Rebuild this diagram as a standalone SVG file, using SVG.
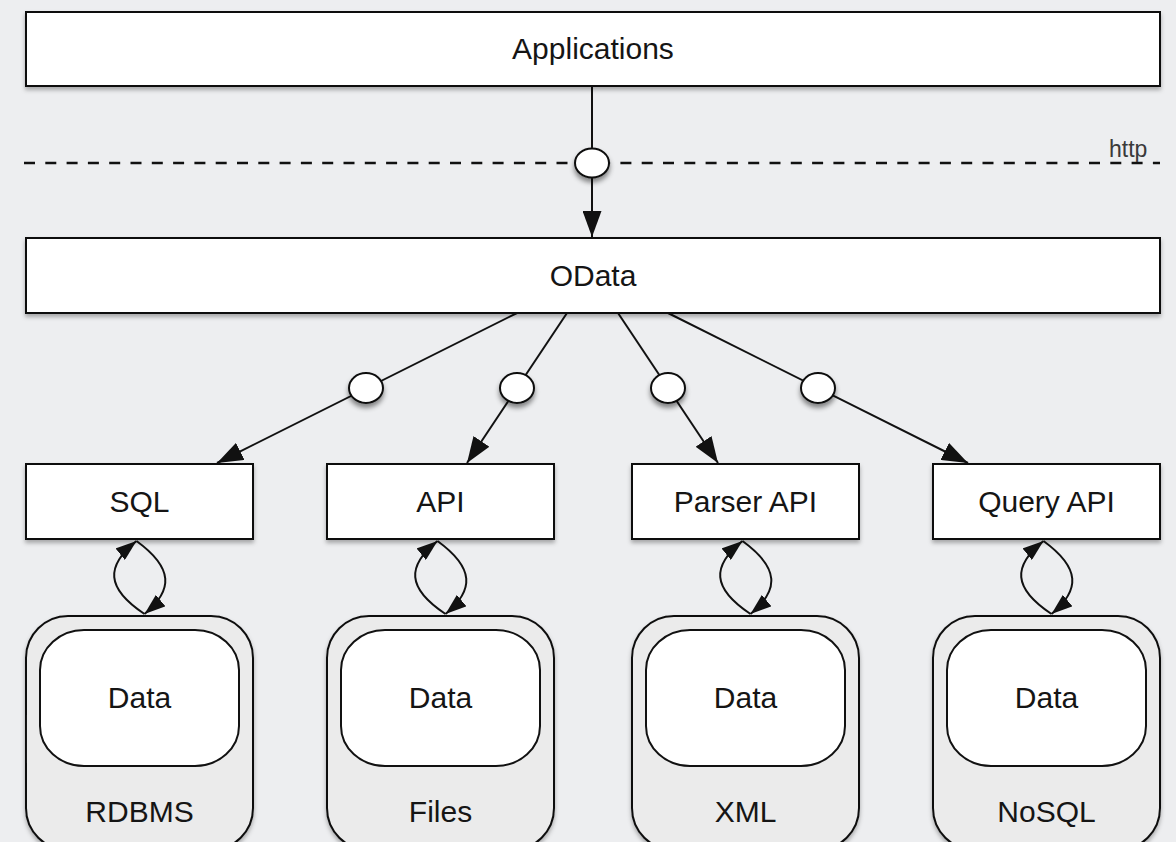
<svg xmlns="http://www.w3.org/2000/svg" width="1176" height="842" viewBox="0 0 1176 842">
<style>
.box{fill:#fff;stroke:#111;stroke-width:2;filter:url(#sh)}
.outer{fill:#ebebeb;stroke:#111;stroke-width:2;filter:url(#sh)}
.inner{fill:#fff;stroke:#111;stroke-width:2}
.lbl{font-family:"Liberation Sans",Arial,Helvetica,sans-serif;font-size:30px;fill:#151515;text-anchor:middle}
.http{font-family:"Liberation Sans",Arial,Helvetica,sans-serif;font-size:23px;fill:#3a3a3a}
.ln{fill:none;stroke:#111;stroke-width:2}
.big{marker-end:url(#ah)}
.small{marker-end:url(#as)}
.port{fill:#fff;stroke:#111;stroke-width:2;filter:url(#sh2)}
</style>
<defs>
<filter id="sh" x="-10%" y="-20%" width="120%" height="150%">
<feDropShadow dx="0" dy="3" stdDeviation="2" flood-color="#000" flood-opacity="0.3"/>
</filter>
<filter id="sh2" x="-50%" y="-50%" width="200%" height="220%">
<feDropShadow dx="0" dy="4" stdDeviation="2.5" flood-color="#000" flood-opacity="0.45"/>
</filter>
<marker id="ah" markerUnits="userSpaceOnUse" markerWidth="26" markerHeight="19" refX="26" refY="9.5" orient="auto">
<path d="M0,0 L26,9.5 L0,19 Z" fill="#111"/>
</marker>
<marker id="as" markerUnits="userSpaceOnUse" markerWidth="21" markerHeight="15" refX="21" refY="7.5" orient="auto">
<path d="M0,0 L21,7.5 L0,15 Z" fill="#111"/>
</marker>
</defs>
<rect x="0" y="0" width="1176" height="842" fill="#edeef0"/>

<g id="connectors">
<line x1="24" y1="163" x2="1160" y2="163" stroke="#111" stroke-width="2.5" stroke-dasharray="11 10.3"/>
<path class="ln big" d="M592,86 L592,237"/>
<path class="ln big" d="M517,313 L217,463"/>
<path class="ln big" d="M567,313 L467,463"/>
<path class="ln big" d="M618,313 L718,463"/>
<path class="ln big" d="M668,313 L968,463"/>
<ellipse class="port" cx="592" cy="163" rx="17" ry="14.5"/>
<ellipse class="port" cx="366" cy="388" rx="17" ry="15"/>
<ellipse class="port" cx="517" cy="388" rx="17" ry="15"/>
<ellipse class="port" cx="668" cy="388" rx="17" ry="15"/>
<ellipse class="port" cx="818" cy="388" rx="17" ry="15"/>
<g id="loop-sql">
<path class="ln small" d="M144.5,614 C105.5,588 105.5,566 136.5,541"/>
<path class="ln small" d="M136.5,541 C173.5,568 173.5,590 144.5,614"/>
</g>
<g id="loop-api">
<path class="ln small" d="M445.5,614 C406.5,588 406.5,566 437.5,541"/>
<path class="ln small" d="M437.5,541 C474.5,568 474.5,590 445.5,614"/>
</g>
<g id="loop-parser">
<path class="ln small" d="M750.5,614 C711.5,588 711.5,566 742.5,541"/>
<path class="ln small" d="M742.5,541 C779.5,568 779.5,590 750.5,614"/>
</g>
<g id="loop-query">
<path class="ln small" d="M1051.5,614 C1012.5,588 1012.5,566 1043.5,541"/>
<path class="ln small" d="M1043.5,541 C1080.5,568 1080.5,590 1051.5,614"/>
</g>
</g>

<text class="http" x="1109" y="157">http</text>

<g id="applications">
<rect class="box" x="26" y="12" width="1134" height="74"/>
<text class="lbl" x="593" y="59">Applications</text>
</g>
<g id="odata">
<rect class="box" x="26" y="238" width="1134" height="75"/>
<text class="lbl" x="593" y="286">OData</text>
</g>

<g id="sql">
<rect class="box" x="26" y="464" width="227" height="75"/>
<text class="lbl" x="139.5" y="512">SQL</text>
</g>
<g id="api">
<rect class="box" x="327" y="464" width="227" height="75"/>
<text class="lbl" x="440.5" y="512">API</text>
</g>
<g id="parser-api">
<rect class="box" x="632" y="464" width="227" height="75"/>
<text class="lbl" x="745.5" y="512">Parser API</text>
</g>
<g id="query-api">
<rect class="box" x="933" y="464" width="227" height="75"/>
<text class="lbl" x="1046.5" y="512">Query API</text>
</g>

<g id="rdbms">
<rect class="outer" x="26" y="616" width="227" height="234" rx="42" ry="42"/>
<rect class="inner" x="40" y="630" width="199" height="136" rx="44" ry="40"/>
<text class="lbl" x="139.5" y="708">Data</text>
<text class="lbl" x="139.5" y="822">RDBMS</text>
</g>
<g id="files">
<rect class="outer" x="327" y="616" width="227" height="234" rx="42" ry="42"/>
<rect class="inner" x="341" y="630" width="199" height="136" rx="44" ry="40"/>
<text class="lbl" x="440.5" y="708">Data</text>
<text class="lbl" x="440.5" y="822">Files</text>
</g>
<g id="xml">
<rect class="outer" x="632" y="616" width="227" height="234" rx="42" ry="42"/>
<rect class="inner" x="646" y="630" width="199" height="136" rx="44" ry="40"/>
<text class="lbl" x="745.5" y="708">Data</text>
<text class="lbl" x="745.5" y="822">XML</text>
</g>
<g id="nosql">
<rect class="outer" x="933" y="616" width="227" height="234" rx="42" ry="42"/>
<rect class="inner" x="947" y="630" width="199" height="136" rx="44" ry="40"/>
<text class="lbl" x="1046.5" y="708">Data</text>
<text class="lbl" x="1046.5" y="822">NoSQL</text>
</g>
</svg>
